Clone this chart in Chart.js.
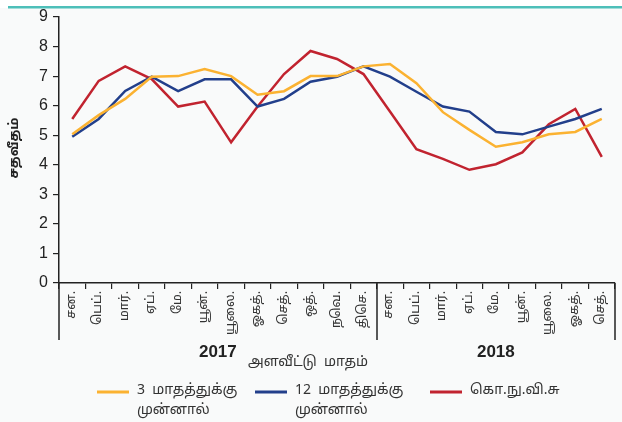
<!DOCTYPE html>
<html>
<head>
<meta charset="utf-8">
<script src="https://cdn.jsdelivr.net/npm/chart.js@4.4.0/dist/chart.umd.min.js"></script>
<style>
  html, body { margin: 0; padding: 0; background: #fff; }
  #wrap { width: 622px; height: 422px; position: relative; }
</style>
</head>
<body>
<div id="wrap"><canvas id="myChart" width="622" height="422"></canvas></div>
<script>
// month labels, Jan 2017 .. Sep 2018
var months = ['சன.','பெப்.','மார்.','ஏப்.','மே.','யூன்.','யூலை.','ஓகத்.','செத்.','ஒத்.','நவெ.','திசெ.',
              'சன.','பெப்.','மார்.','ஏப்.','மே.','யூன்.','யூலை.','ஓகத்.','செத்.'];
var years = ['2017', '2018'];
var yTicks = [0,1,2,3,4,5,6,7,8,9];

// 3 months ahead
var ahead3 = [5.03,5.68,6.23,6.98,7.0,7.24,7.0,6.37,6.49,7.0,7.0,7.33,7.41,6.76,5.78,5.18,4.61,4.76,5.03,5.11,5.55];
// 12 months ahead
var ahead12 = [4.95,5.55,6.5,6.98,6.49,6.89,6.89,5.97,6.23,6.81,6.98,7.33,6.98,6.47,5.97,5.8,5.11,5.03,5.29,5.55,5.89];
// CCPI
var ccpi = [5.55,6.84,7.33,6.9,5.97,6.14,4.76,5.97,7.07,7.85,7.58,7.07,5.8,4.53,4.2,3.83,4.02,4.42,5.37,5.89,4.27];

var legendItems = [
  { lines: ['3  மாதத்துக்கு', 'முன்னால்'], color: '#fbb231', x: 97 },
  { lines: ['12  மாதத்துக்கு', 'முன்னால்'], color: '#223f8b', x: 255 },
  { lines: ['கொ.நு.வி.சு'], color: '#c1232f', x: 430 }
];

var tamilFont = '"Noto Sans Tamil", "Latha", "Lohit Tamil", "Noto Sans", sans-serif';

var extras = {
  id: 'extras',
  beforeDraw: function(chart) {
    var c = chart.ctx;
    c.save();
    c.fillStyle = '#f9fafa';
    c.fillRect(0, 8, chart.width, chart.height - 8);
    c.fillStyle = '#4dbfb9';
    c.fillRect(8, 6, chart.width - 8, 2.5);
    c.restore();
  },
  afterDraw: function(chart) {
    var c = chart.ctx;
    var xs = chart.scales.x;
    var area = chart.chartArea;
    c.save();
    // year separators
    c.strokeStyle = '#222';
    c.lineWidth = 1.5;
    var step = (area.right - area.left) / months.length;
    [0, 12, months.length].forEach(function(i) {
      var x = Math.round(area.left + i * step);
      c.beginPath();
      c.moveTo(x, area.bottom);
      c.lineTo(x, area.bottom + 57);
      c.stroke();
    });
    // year labels
    c.fillStyle = '#222';
    c.font = 'bold 17px "Liberation Sans Narrow", "Liberation Sans", sans-serif';
    c.textAlign = 'center';
    c.textBaseline = 'middle';
    c.fillText(years[0], (xs.getPixelForValue(0) + xs.getPixelForValue(11)) / 2, 352);
    c.fillText(years[1], (xs.getPixelForValue(12) + xs.getPixelForValue(20)) / 2, 352);
    // x title
    c.font = '14px ' + tamilFont;
    c.fillStyle = '#333';
    c.fillText('அளவீட்டு  மாதம்', 308, 363);
    // y title
    c.save();
    c.translate(15, 148);
    c.rotate(-Math.PI / 2);
    c.font = 'bold 13px ' + tamilFont;
    c.fillStyle = '#222';
    c.fillText('சதவீதம்', 0, 0);
    c.restore();
    // legend
    c.textAlign = 'left';
    c.font = '14px ' + tamilFont;
    legendItems.forEach(function(it) {
      c.strokeStyle = it.color;
      c.lineWidth = 3;
      c.beginPath();
      c.moveTo(it.x, 392);
      c.lineTo(it.x + 32, 392);
      c.stroke();
      c.fillStyle = '#333';
      it.lines.forEach(function(t, k) {
        c.fillText(t, it.x + 40, 391 + k * 20);
      });
    });
    c.restore();
  }
};

var ctx = document.getElementById('myChart');
var myChart = new Chart(ctx, {
  type: 'line',
  data: {
    labels: months,
    datasets: [
      { label: '3 மாதத்துக்கு முன்னால்', data: ahead3, borderColor: '#fbb231', borderWidth: 2.5, pointRadius: 0, fill: false, tension: 0 },
      { label: '12 மாதத்துக்கு முன்னால்', data: ahead12, borderColor: '#223f8b', borderWidth: 2.5, pointRadius: 0, fill: false, tension: 0 },
      { label: 'கொ.நு.வி.சு', data: ccpi, borderColor: '#c1232f', borderWidth: 2.5, pointRadius: 0, fill: false, tension: 0 }
    ]
  },
  options: {
    responsive: false,
    animation: false,
    layout: { padding: { top: 17, right: 7, left: 0, bottom: 0 } },
    plugins: { legend: { display: false }, tooltip: { enabled: false } },
    scales: {
      x: {
        offset: true,
        grid: { offset: true, drawOnChartArea: false, tickLength: 6, color: '#222', lineWidth: 1.2 },
        border: { color: '#222', width: 1.5 },
        ticks: {
          autoSkip: false, minRotation: 90, maxRotation: 90,
          color: '#333', font: { size: 12.5, family: tamilFont }, padding: 2
        },
        afterFit: function(s) { s.height = 139; }
      },
      y: {
        min: 0, max: 9,
        afterBuildTicks: function(s) { s.ticks = yTicks.map(function(v) { return { value: v }; }); },
        grid: { drawOnChartArea: false, tickLength: 6, color: '#222', lineWidth: 1.2 },
        border: { color: '#222', width: 1.5 },
        ticks: { color: '#222', font: { size: 16, family: '"Liberation Sans Narrow", "Liberation Sans", sans-serif' }, padding: 5 },
        afterFit: function(s) { s.width = 59; }
      }
    }
  },
  plugins: [extras]
});
</script>
</body>
</html>
